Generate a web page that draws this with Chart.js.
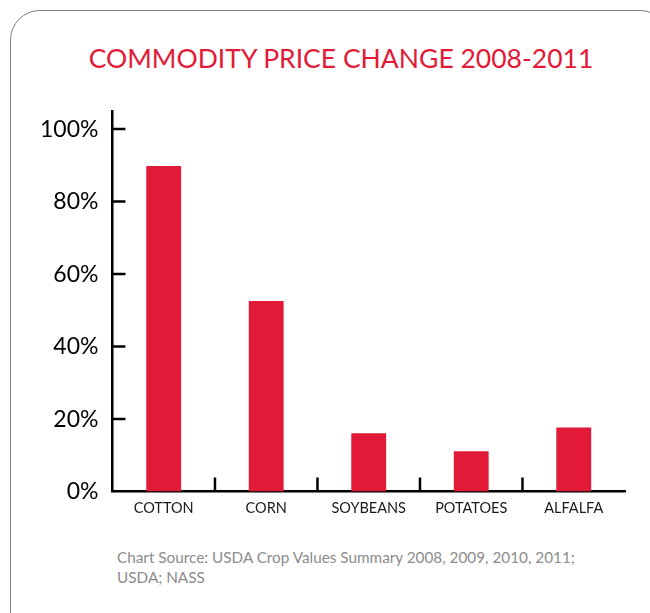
<!DOCTYPE html>
<html>
<head>
<meta charset="utf-8">
<script src="https://cdn.jsdelivr.net/npm/chart.js@4"></script>
<style>
  html, body { margin: 0; padding: 0; background: #fff; }
  body { width: 650px; height: 613px; position: relative; overflow: hidden; font-family: Lato, sans-serif; }
  .card { position: absolute; left: 10px; top: 10px; width: 660px; height: 660px; border: 1.5px solid #808080; border-radius: 30px; box-sizing: border-box; }
  .title { position: absolute; left: 0; width: 682px; top: 42px; text-align: center; color: #e21a38; font-size: 26.5px; font-weight: 400; white-space: nowrap; }
  .source { position: absolute; left: 117px; top: 547px; color: #8c8c8c; font-size: 15.3px; line-height: 20px; font-weight: 400; }
  #wrap { position: absolute; left: 0; top: 0; width: 650px; height: 540px; }
</style>
</head>
<body>
<div class="card"></div>
<div class="title">COMMODITY PRICE CHANGE 2008-2011</div>
<div id="wrap"><canvas id="chart"></canvas></div>
<div class="source">Chart Source: USDA Crop Values Summary 2008, 2009, 2010, 2011;<br>USDA; NASS</div>
<script>
const categories = ['COTTON', 'CORN', 'SOYBEANS', 'POTATOES', 'ALFALFA'];
const priceChange = [89.8, 52.6, 16.1, 11.1, 17.7];
const yTicks = [0, 20, 40, 60, 80, 100];

const red = '#e21a38';
const font = 'Lato, sans-serif';

// inward tick marks: y ticks point right, x ticks sit on category boundaries pointing up
const tickMarks = {
  id: 'tickMarks',
  afterDraw(chart) {
    const { ctx, scales: { x, y } } = chart;
    ctx.save();
    ctx.strokeStyle = '#000';
    ctx.lineWidth = 2.5;
    ctx.beginPath();
    yTicks.forEach(v => {
      if (v === 0) return;
      const py = y.getPixelForValue(v);
      ctx.moveTo(x.left, py);
      ctx.lineTo(x.left + 13, py);
    });
    for (let i = 0; i < categories.length - 1; i++) {
      const px = (x.getPixelForValue(i) + x.getPixelForValue(i + 1)) / 2;
      ctx.moveTo(px, y.bottom);
      ctx.lineTo(px, y.bottom - 14);
    }
    ctx.stroke();
    ctx.restore();
  }
};

new Chart(document.getElementById('chart'), {
  type: 'bar',
  data: {
    labels: categories,
    datasets: [{ data: priceChange, backgroundColor: red, barPercentage: 0.34, categoryPercentage: 1 }]
  },
  options: {
    responsive: true, maintainAspectRatio: false, animation: false,
    layout: { padding: { left: 26, right: 25, top: 111, bottom: 15 } },
    plugins: { legend: { display: false }, tooltip: { enabled: false } },
    scales: {
      x: {
        grid: { display: false, drawTicks: false },
        border: { display: true, color: '#000', width: 2.5 },
        ticks: { color: '#1a1a1a', font: { family: font, size: 14.5 }, padding: 8, maxRotation: 0 }
      },
      y: {
        min: 0, max: 105,
        afterBuildTicks: s => { s.ticks = yTicks.map(v => ({ value: v })); },
        grid: { display: false, drawTicks: false },
        border: { display: true, color: '#000', width: 2.5 },
        ticks: { color: '#000', font: { family: font, size: 23 }, padding: 14, callback: v => v + '%' }
      }
    }
  },
  plugins: [tickMarks]
});
</script>
</body>
</html>
